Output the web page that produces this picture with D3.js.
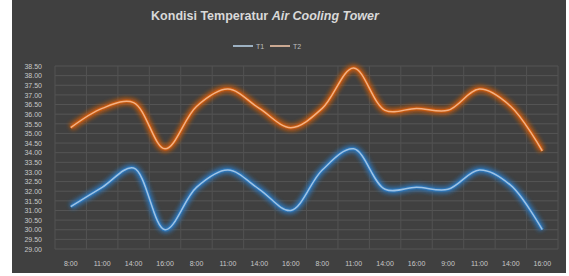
<!DOCTYPE html>
<meta charset="utf-8">
<style>
body { margin: 0; background: #fff; }
.tick text { fill: #c8c8c8; font-family: "Liberation Sans", Arial, sans-serif; }
</style>
<body>
<script src="https://d3js.org/d3.v7.min.js"></script>
<script>

// data
var times = ["8:00", "11:00", "14:00", "16:00", "8:00", "11:00", "14:00", "16:00",
             "8:00", "11:00", "14:00", "16:00", "9:00", "11:00", "14:00", "16:00"];
var t1 = [31.2, 32.2, 33.2, 30.0, 32.2, 33.1, 32.1, 31.0, 33.1, 34.2, 32.1, 32.2, 32.1, 33.1, 32.3, 30.0];
var t2 = [35.3, 36.3, 36.6, 34.2, 36.4, 37.3, 36.3, 35.3, 36.3, 38.4, 36.2, 36.3, 36.2, 37.3, 36.4, 34.1];
var yTicks = d3.range(29, 38.51, 0.5);
var seriesNames = ["T1", "T2"];

var W = 569, H = 276;

var svg = d3.select("body").append("svg")
    .attr("width", W)
    .attr("height", H);

// chart background
svg.append("rect")
    .attr("x", 12).attr("y", 0)
    .attr("width", 554).attr("height", 273)
    .attr("fill", "#404040");

var defs = svg.append("defs");
defs.append("filter").attr("id", "glow")
    .attr("x", "-10%").attr("y", "-30%").attr("width", "120%").attr("height", "160%")
  .append("feGaussianBlur").attr("stdDeviation", 2);

// scales
var x = d3.scaleBand().domain(d3.range(times.length)).range([55, 558]);
var y = d3.scaleLinear().domain([29, 38.5]).range([249, 66]);

// grid
var grid = svg.append("g");
grid.selectAll(".h").data(yTicks).enter().append("line")
    .attr("x1", 55).attr("x2", 558)
    .attr("y1", function(d) { return y(d); })
    .attr("y2", function(d) { return y(d); })
    .attr("stroke", "#555555").attr("stroke-width", 1);
grid.selectAll(".v").data(d3.range(times.length + 1)).enter().append("line")
    .attr("x1", function(d) { return 55 + d * x.step(); })
    .attr("x2", function(d) { return 55 + d * x.step(); })
    .attr("y1", y(38.5)).attr("y2", y(29))
    .attr("stroke", "#525252").attr("stroke-width", 1);

// axes
svg.append("g")
    .attr("transform", "translate(45,0)")
    .call(d3.axisLeft(y).tickValues(yTicks).tickFormat(d3.format(".2f")).tickSize(0))
    .call(function(g) { g.select(".domain").remove(); })
    .selectAll("text").attr("font-size", 7);

svg.append("g")
    .attr("transform", "translate(0,258)")
    .call(d3.axisBottom(x).tickFormat(function(i) { return times[i]; }).tickSize(0))
    .call(function(g) { g.select(".domain").remove(); })
    .selectAll("text").attr("font-size", 7);

// lines
var line = d3.line()
    .x(function(d, i) { return x(i) + x.bandwidth() / 2; })
    .y(function(d) { return y(d); })
    .curve(d3.curveCatmullRom.alpha(0.5));

var styles = [
  { glow: "#2e75b6", core: "#9dc3e6", legend: "#bdd7ee" },
  { glow: "#c55a11", core: "#f4b183", legend: "#f8cbad" }
];

[t1, t2].forEach(function(s, k) {
  svg.append("path").datum(s)
      .attr("d", line).attr("fill", "none")
      .attr("stroke", styles[k].glow).attr("stroke-width", 7)
      .attr("opacity", 0.9).attr("filter", "url(#glow)");
  svg.append("path").datum(s)
      .attr("d", line).attr("fill", "none")
      .attr("stroke", styles[k].glow).attr("stroke-width", 3.5);
  svg.append("path").datum(s)
      .attr("d", line).attr("fill", "none")
      .attr("stroke", styles[k].core).attr("stroke-width", 1.5);
});

// title
var title = svg.append("text")
    .attr("x", 265).attr("y", 20)
    .attr("text-anchor", "middle")
    .attr("fill", "#d9d9d9")
    .attr("font-family", "'Liberation Sans', Arial, sans-serif")
    .attr("font-size", 12.5)
    .attr("font-weight", "bold");
title.append("tspan").text("Kondisi Temperatur ");
title.append("tspan").attr("font-style", "italic").text("Air Cooling Tower");

// legend
var legend = svg.append("g").attr("transform", "translate(233,46)");
seriesNames.forEach(function(n, k) {
  var gx = k * 37;
  legend.append("line")
      .attr("x1", gx).attr("x2", gx + 20)
      .attr("stroke", styles[k].legend).attr("stroke-width", 1.5);
  legend.append("text")
      .attr("x", gx + 23).attr("y", 2.5)
      .attr("fill", "#bfbfbf")
      .attr("font-family", "'Liberation Sans', Arial, sans-serif")
      .attr("font-size", 7)
      .text(n);
});

</script>
</body>
